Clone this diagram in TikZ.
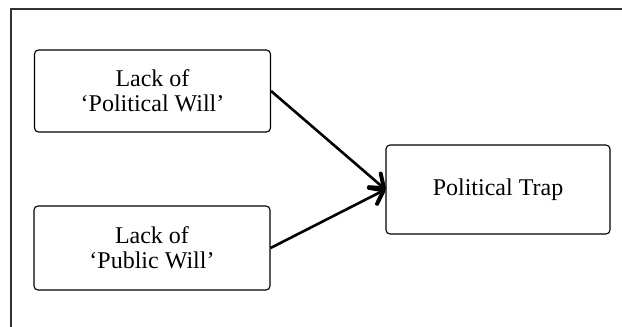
\documentclass[tikz,border=0pt]{standalone}
\usepackage{fontspec}
\setmainfont{Liberation Serif}
\usetikzlibrary{arrows.meta}
\begin{document}
\begin{tikzpicture}[x=0.5pt,y=-0.5pt,
  box/.style={draw, line width=0.55pt, rounded corners=2pt, align=center,
    font=\fontsize{12}{12.5}\selectfont, inner sep=0pt},
  link/.style={line width=1.3pt, -{Straight Barb[length=6pt,width=9pt,line width=2pt,round]}}]
\useasboundingbox (0,0) rectangle (622,327);
% open frame: top and left edges only
\draw[line width=0.6pt, black!80] (11,327) -- (11,9) -- (622,9);
\node[box, minimum width=118pt, minimum height=41pt] (pol) at (152.5,91) {Lack of\\`Political Will'};
\node[box, minimum width=118pt, minimum height=42pt] (pub) at (152,248) {Lack of\\`Public Will'};
\node[box, minimum width=112pt, minimum height=44.5pt] (trap) at (498,189.5) {Political Trap};
\draw[link] (pol.east) -- (trap.west);
\draw[link] (pub.east) -- (trap.west);
\end{tikzpicture}
\end{document}
